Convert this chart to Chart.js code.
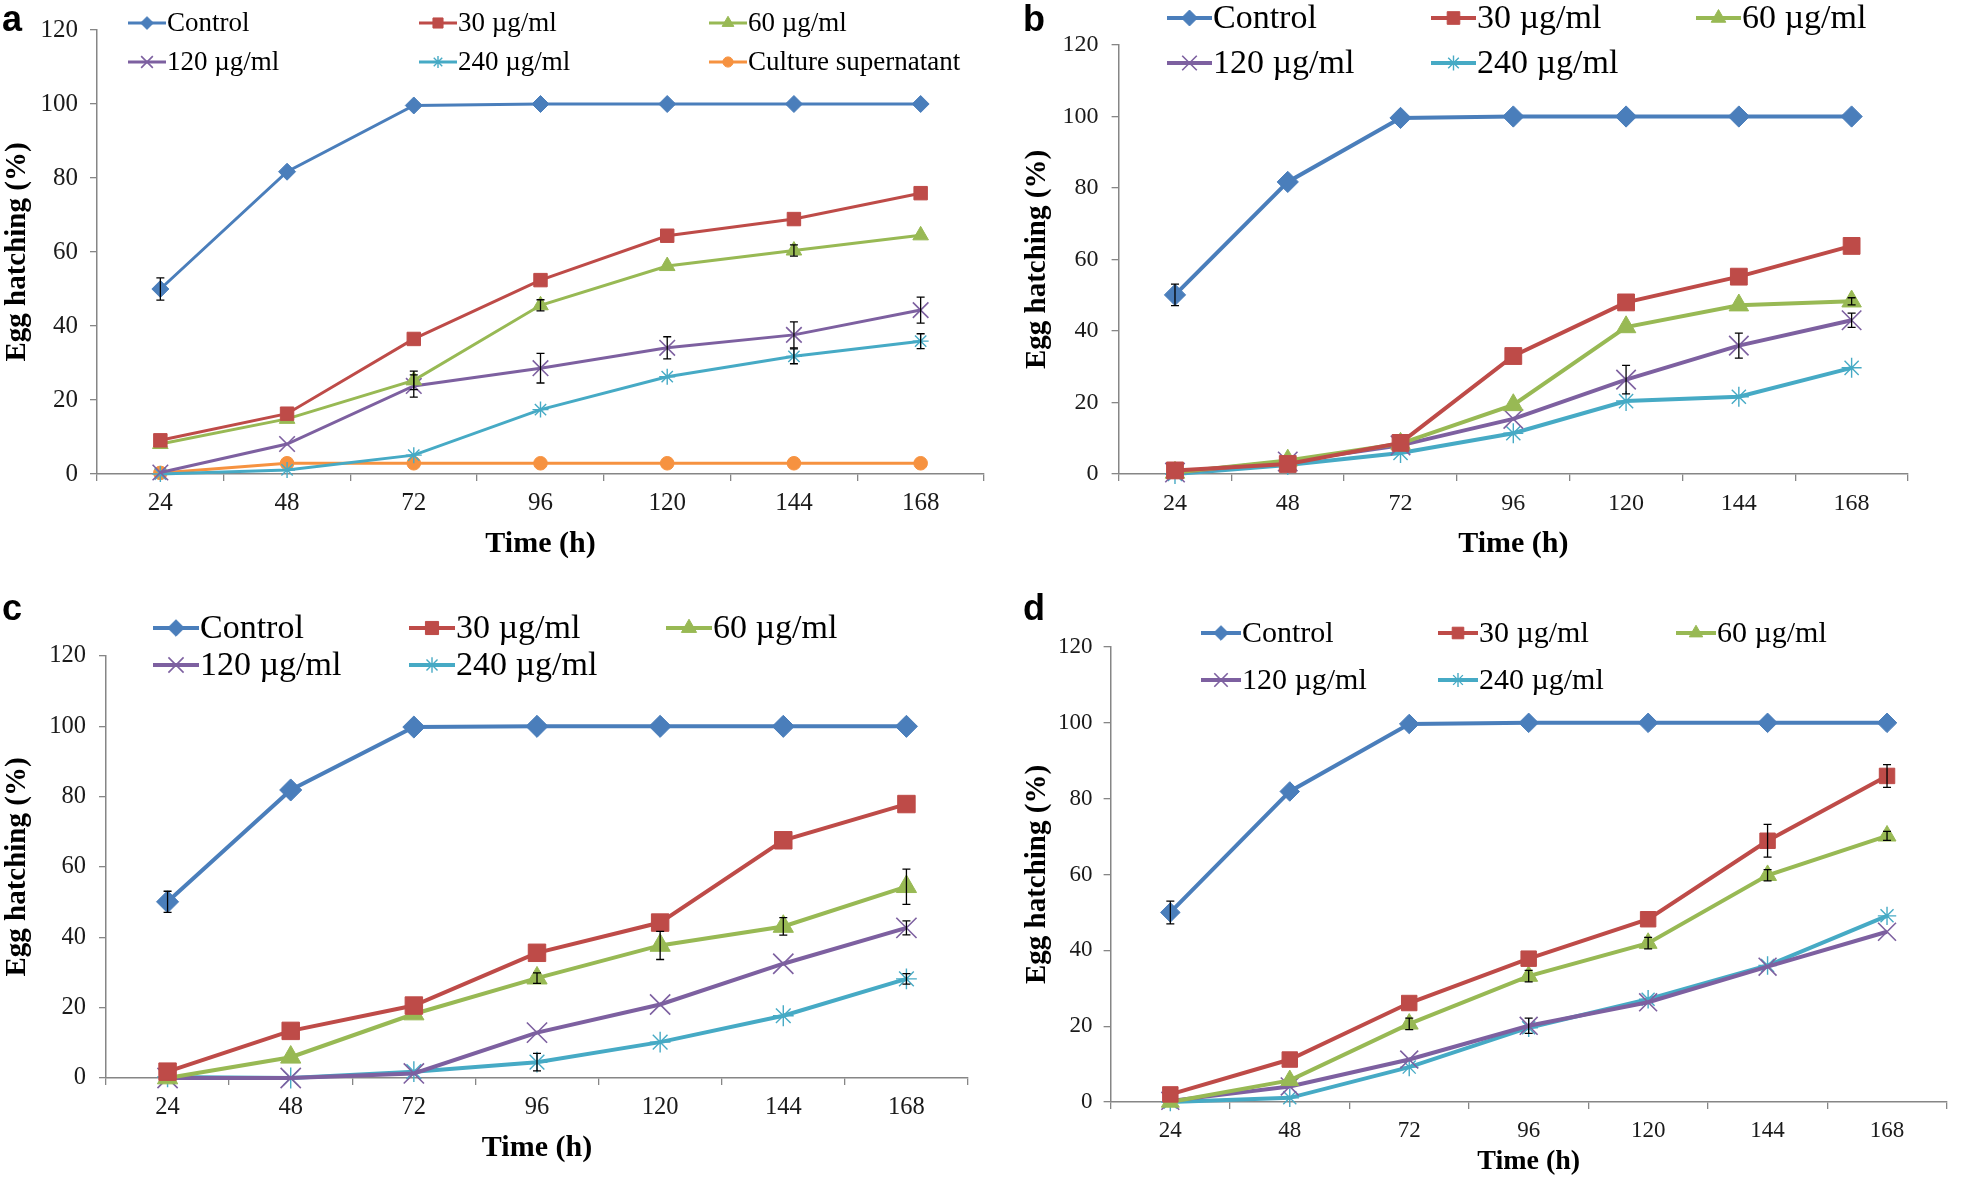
<!DOCTYPE html>
<html>
<head>
<meta charset="utf-8">
<title>Egg hatching</title>
<script src="https://cdn.jsdelivr.net/npm/chart.js@4.4.1/dist/chart.umd.min.js"></script>
<style>
  html, body { margin: 0; padding: 0; background: #fff; }
  #fig { position: relative; width: 1961px; height: 1179px; overflow: hidden; background: #fff; }
  #fig canvas { position: absolute; }
</style>
</head>
<body>
<div id="fig">
  <canvas id="panelA" width="1000" height="590" style="left:0px;top:0px"></canvas>
  <canvas id="panelB" width="961" height="590" style="left:1000px;top:0px"></canvas>
  <canvas id="panelC" width="990" height="589" style="left:0px;top:590px"></canvas>
  <canvas id="panelD" width="961" height="589" style="left:1000px;top:590px"></canvas>
</div>
<script>
const hours = ['24', '48', '72', '96', '120', '144', '168'];
const yTicks = [0, 20, 40, 60, 80, 100, 120];
const seriesNames = ['Control', '30 µg/ml', '60 µg/ml', '120 µg/ml', '240 µg/ml', 'Culture supernatant'];

// panel a
const aControl = [50.0, 81.7, 99.6, 100, 100, 100, 100];
const a30 = [9.1, 16.3, 36.5, 52.4, 64.4, 68.9, 75.9];
const a60 = [8.1, 14.9, 25.3, 45.6, 56.2, 60.4, 64.5];
const a120 = [0.4, 8.1, 23.8, 28.6, 34.1, 37.6, 44.3];
const a240 = [0, 1.1, 5.1, 17.4, 26.3, 31.8, 35.9];
const aSuper = [0.3, 2.9, 2.9, 2.9, 2.9, 2.9, 2.9];
const aControlErr = [3, 0, 0, 0, 0, 0, 0];
const a60Err = [0, 0, 2.5, 1.5, 0, 1.5, 0];
const a120Err = [0, 0, 3, 4, 3, 3.5, 3.5];
const a240Err = [0, 0, 0, 0, 0, 2, 2];

// panel b
const bControl = [50.1, 81.7, 99.6, 100, 100, 100, 100];
const b30 = [1.0, 2.8, 8.7, 33.0, 48.0, 55.2, 63.8];
const b60 = [0.4, 3.8, 8.5, 19.3, 41.1, 47.2, 48.3];
const b120 = [0.4, 3.5, 8.0, 15.4, 26.4, 35.9, 43.0];
const b240 = [0, 2.5, 5.9, 11.4, 20.4, 21.6, 29.7];
const bControlErr = [3, 0, 0, 0, 0, 0, 0];
const b60Err = [0, 0, 0, 0, 0, 0, 1];
const b120Err = [0, 0, 0, 0, 4, 3.5, 2];

// panel c
const cControl = [50.1, 81.9, 99.8, 100, 100, 100, 100];
const c30 = [1.8, 13.4, 20.6, 35.6, 44.2, 67.6, 77.9];
const c60 = [0, 5.9, 18.2, 28.4, 37.7, 43.1, 54.4];
const c120 = [0, 0, 1.3, 12.9, 20.9, 32.5, 42.7];
const c240 = [0.3, 0, 1.8, 4.5, 10.2, 17.7, 28.2];
const cControlErr = [3, 0, 0, 0, 0, 0, 0];
const c60Err = [0, 0, 0, 1.5, 4, 2.5, 5];
const c120Err = [0, 0, 0, 0, 0, 0, 2];
const c240Err = [0, 0, 0, 2.5, 0, 0, 1.5];

// panel d
const dControl = [50.0, 81.9, 99.7, 100, 100, 100, 100];
const d30 = [2.0, 11.2, 26.1, 37.8, 48.2, 68.9, 86.0];
const d60 = [0, 5.7, 20.6, 33.2, 41.9, 59.8, 70.2];
const d120 = [0.3, 4.1, 11.2, 20.1, 26.3, 35.7, 44.9];
const d240 = [0, 1.1, 9.2, 19.6, 27.1, 36.0, 49.1];
const dControlErr = [3, 0, 0, 0, 0, 0, 0];
const d30Err = [0, 0, 0, 0, 0, 4.3, 3];
const d60Err = [0, 0, 1.5, 1.5, 1.5, 1.5, 1.2];
const d120Err = [0, 0, 0, 2, 0, 0, 0];

const zeros = [0, 0, 0, 0, 0, 0, 0];

// marker / line look for each series (same order as seriesNames)
const seriesStyle = [
  { color: '#4A7EBB', shape: 'rectRot', r: 8.5, bw: 1 },
  { color: '#BE4B48', shape: 'rect', r: 9.5, bw: 1 },
  { color: '#98B954', shape: 'triangle', r: 9, bw: 1 },
  { color: '#7D60A0', shape: 'crossRot', r: 11, bw: 1.6 },
  { color: '#46AAC5', shape: 'star', r: 8, bw: 1.4 },
  { color: '#F69240', shape: 'circle', r: 6.8, bw: 1 }
];

const serif = '"Liberation Serif", "Times New Roman", serif';
const axisColor = '#868686';

// legend drawn in Excel-like columns + panel letter
const panelLegend = {
  id: 'panelLegend',
  afterDraw(chart, args, o) {
    const ctx = chart.ctx;
    ctx.save();
    chart.data.datasets.forEach((ds, i) => {
      const x = o.cols[i % 3];
      const y = o.rows[Math.floor(i / 3)];
      ctx.strokeStyle = ds.borderColor;
      ctx.lineWidth = ds.borderWidth;
      ctx.beginPath();
      ctx.moveTo(x, y);
      ctx.lineTo(x + o.line, y);
      ctx.stroke();
      ctx.fillStyle = ds.pointBackgroundColor;
      ctx.strokeStyle = ds.pointBorderColor;
      ctx.lineWidth = ds.pointBorderWidth;
      Chart.helpers.drawPoint(ctx, { pointStyle: ds.pointStyle, rotation: 0, radius: ds.pointRadius * o.markScale, borderWidth: ds.pointBorderWidth }, x + o.line / 2, y);
      ctx.fillStyle = '#000';
      ctx.font = o.size + 'px ' + serif;
      ctx.textBaseline = 'middle';
      ctx.textAlign = 'left';
      ctx.fillText(ds.label, x + o.line + 1, y + 1);
    });
    ctx.fillStyle = '#000';
    ctx.font = 'bold 36px "Liberation Sans", Arial, sans-serif';
    ctx.textBaseline = 'alphabetic';
    ctx.fillText(o.letter, o.letterX, o.letterY);
    ctx.restore();
  }
};

const errorBars = {
  id: 'errorBars',
  afterDatasetsDraw(chart) {
    const { ctx, scales: { x, y } } = chart;
    ctx.save();
    ctx.strokeStyle = '#000';
    ctx.lineWidth = 1.3;
    chart.data.datasets.forEach(ds => {
      (ds.errors || []).forEach((e, j) => {
        if (!e) return;
        const px = x.getPixelForValue(j);
        const top = y.getPixelForValue(ds.data[j] + e);
        const bot = y.getPixelForValue(ds.data[j] - e);
        ctx.beginPath();
        ctx.moveTo(px, top); ctx.lineTo(px, bot);
        ctx.moveTo(px - 4, top); ctx.lineTo(px + 4, top);
        ctx.moveTo(px - 4, bot); ctx.lineTo(px + 4, bot);
        ctx.stroke();
      });
    });
    ctx.restore();
  }
};

function makePanel(id, p) {
  const canvas = document.getElementById(id);
  const W = canvas.width, H = canvas.height;
  const datasets = p.series.map((vals, i) => {
    const st = seriesStyle[i];
    return {
      label: seriesNames[i],
      data: vals,
      errors: p.errors[i],
      borderColor: st.color,
      backgroundColor: st.color,
      pointBackgroundColor: st.color,
      pointBorderColor: st.color,
      pointStyle: st.shape,
      pointRadius: st.r * p.mark,
      pointHoverRadius: st.r * p.mark,
      pointBorderWidth: st.bw,
      borderWidth: p.lineWidth,
      tension: 0,
      clip: false
    };
  });
  new Chart(canvas, {
    type: 'line',
    data: { labels: hours, datasets },
    plugins: [errorBars, panelLegend],
    options: {
      responsive: false,
      animation: false,
      devicePixelRatio: 1,
      layout: {
        padding: { left: p.padL, right: W - p.right, top: p.top, bottom: H - p.bottom - p.xAxisH }
      },
      plugins: {
        legend: { display: false },
        tooltip: { enabled: false },
        panelLegend: p.legend
      },
      scales: {
        x: {
          offset: true,
          grid: { display: true, offset: true, drawOnChartArea: false, drawTicks: true, tickLength: 7, color: axisColor, lineWidth: 1.3 },
          border: { display: true, color: axisColor, width: 1.5 },
          ticks: { font: { family: serif, size: p.tickSize }, color: '#1a1a1a', padding: p.xTickPad, maxRotation: 0, autoSkip: false },
          title: { display: true, text: 'Time (h)', color: '#000', font: { family: serif, size: p.xTitleSize, weight: 'bold' }, padding: { top: 0, bottom: p.xTitlePad } },
          afterFit: s => { s.height = p.xAxisH; }
        },
        y: {
          min: 0,
          max: 120,
          afterBuildTicks: s => { s.ticks = yTicks.map(v => ({ value: v })); },
          grid: { display: true, drawOnChartArea: false, drawTicks: true, tickLength: 7, color: axisColor, lineWidth: 1.3 },
          border: { display: true, color: axisColor, width: 1.5 },
          ticks: { font: { family: serif, size: p.tickSize }, color: '#1a1a1a', padding: p.yTickPad },
          title: { display: true, text: 'Egg hatching (%)', color: '#000', font: { family: serif, size: 29, weight: 'bold' }, padding: { top: 0, bottom: 0 } },
          afterFit: s => { s.width = p.yAxisW; }
        }
      }
    }
  });
}

makePanel('panelA', {
  series: [aControl, a30, a60, a120, a240, aSuper],
  errors: [aControlErr, zeros, a60Err, a120Err, a240Err, zeros],
  padL: 0, yAxisW: 97, right: 984, top: 30, bottom: 474, xAxisH: 116,
  tickSize: 25, xTickPad: 7, yTickPad: 12, xTitleSize: 30, xTitlePad: 28,
  lineWidth: 3, mark: 1.0,
  legend: { cols: [128, 419, 709], rows: [23, 62], line: 38, size: 27, markScale: 0.75, letter: 'a', letterX: 2, letterY: 31 }
});

makePanel('panelB', {
  series: [bControl, b30, b60, b120, b240],
  errors: [bControlErr, zeros, b60Err, b120Err, zeros],
  padL: 20, yAxisW: 98.6, right: 908, top: 45, bottom: 474, xAxisH: 116,
  tickSize: 24, xTickPad: 8, yTickPad: 13, xTitleSize: 30, xTitlePad: 28,
  lineWidth: 4, mark: 1.25,
  legend: { cols: [167, 431, 696], rows: [18, 63], line: 45, size: 34, markScale: 0.75, letter: 'b', letterX: 23, letterY: 31 }
});

makePanel('panelC', {
  series: [cControl, c30, c60, c120, c240],
  errors: [cControlErr, zeros, c60Err, c120Err, c240Err],
  padL: 0, yAxisW: 106, right: 968, top: 66, bottom: 488, xAxisH: 101,
  tickSize: 24.5, xTickPad: 8, yTickPad: 13, xTitleSize: 30, xTitlePad: 13,
  lineWidth: 4, mark: 1.3,
  legend: { cols: [153, 409, 666], rows: [38, 75], line: 46, size: 34, markScale: 0.75, letter: 'c', letterX: 2, letterY: 30 }
});

makePanel('panelD', {
  series: [dControl, d30, d60, d120, d240],
  errors: [dControlErr, d30Err, d60Err, d120Err, zeros],
  padL: 20, yAxisW: 90.6, right: 956, top: 57, bottom: 512, xAxisH: 77,
  tickSize: 23, xTickPad: 8, yTickPad: 11, xTitleSize: 28, xTitlePad: 0,
  lineWidth: 4, mark: 1.15,
  legend: { cols: [201, 438, 676], rows: [43, 90], line: 40, size: 30, markScale: 0.75, letter: 'd', letterX: 23, letterY: 30 }
});
</script>
</body>
</html>
